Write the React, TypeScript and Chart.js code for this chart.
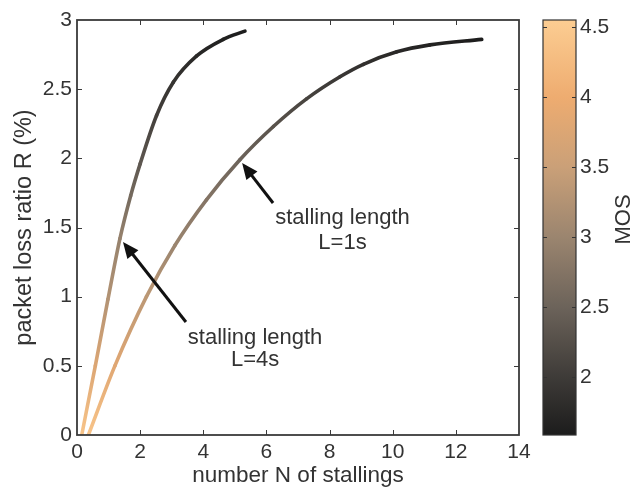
import React, { useEffect, useRef } from "react";
import { Chart, registerables } from "chart.js";

Chart.register(...registerables);

// ---- data ----
const N_L1 = [0.36, 1.2, 2.2, 3.1, 4.1, 5.16, 6.22, 7.27, 8.33, 9.07, 10.13, 11.18, 12.82];
const R_L1 = [0, 0.5, 1.0, 1.37, 1.7, 1.99, 2.23, 2.43, 2.59, 2.68, 2.77, 2.82, 2.86];
const MOS_L1 = [4.4, 3.8, 3.35, 3.0, 2.75, 2.5, 2.3, 2.1, 1.95, 1.85, 1.75, 1.68, 1.6];

const N_L4 = [0.15, 0.58, 0.98, 1.36, 1.7, 2.0, 2.52, 3.05, 3.79, 4.63, 5.32];
const R_L4 = [0, 0.5, 0.98, 1.42, 1.73, 1.96, 2.31, 2.55, 2.74, 2.86, 2.92];
const MOS_L4 = [4.4, 3.75, 3.25, 2.95, 2.6, 2.35, 2.05, 1.9, 1.75, 1.65, 1.6];

const X_TICKS = [0, 2, 4, 6, 8, 10, 12, 14];
const Y_TICKS = [0, 0.5, 1, 1.5, 2, 2.5, 3];
const MOS_TICKS = [2, 2.5, 3, 3.5, 4, 4.5];
const MOS_MIN = 1.586;
const MOS_MAX = 4.55;

// colormap (MOS -> colour)
const CMAP_MOS = [1.586, 2.0, 2.5, 3.0, 3.5, 4.0, 4.55];
const CMAP_RGB = [
  [28, 28, 28],
  [62, 59, 56],
  [108, 99, 90],
  [155, 133, 111],
  [202, 160, 120],
  [238, 172, 112],
  [252, 205, 146],
];

// annotation texts and anchors (data coordinates)
const NOTE_TEXT_1 = ["stalling length", "L=1s"];
const NOTE_TEXT_4 = ["stalling length", "L=4s"];
const NOTE_POS_1 = { x: 8.41, y1: 1.569, y2: 1.385 };
const NOTE_POS_4 = { x: 5.64, y1: 0.703, y2: 0.54 };
const ARROW_1 = { from: [6.21, 1.677], to: [5.23, 1.966] };
const ARROW_4 = { from: [3.45, 0.817], to: [1.457, 1.395] };

const FONT = "'Liberation Sans', Arial, Helvetica, sans-serif";

function mosColor(m: number): string {
  if (m <= CMAP_MOS[0]) return `rgb(${CMAP_RGB[0].join(",")})`;
  for (let i = 1; i < CMAP_MOS.length; i++) {
    if (m <= CMAP_MOS[i]) {
      const t = (m - CMAP_MOS[i - 1]) / (CMAP_MOS[i] - CMAP_MOS[i - 1]);
      const a = CMAP_RGB[i - 1];
      const b = CMAP_RGB[i];
      const c = a.map((v, k) => Math.round(v + (b[k] - v) * t));
      return `rgb(${c.join(",")})`;
    }
  }
  return `rgb(${CMAP_RGB[CMAP_RGB.length - 1].join(",")})`;
}

const framePlugin = {
  id: "frame",
  afterDraw(chart: any) {
    const { ctx, chartArea: a, scales } = chart;
    const xs = scales.x;
    const ys = scales.y;
    const ms = scales.mos;
    ctx.save();

    // inward ticks
    ctx.strokeStyle = "#3a3a3a";
    ctx.lineWidth = 1;
    ctx.beginPath();
    xs.ticks.forEach((t: any) => {
      const px = Math.round(xs.getPixelForValue(t.value)) + 0.5;
      if (px <= a.left + 1 || px >= a.right - 1) return;
      ctx.moveTo(px, a.bottom);
      ctx.lineTo(px, a.bottom - 5);
      ctx.moveTo(px, a.top);
      ctx.lineTo(px, a.top + 5);
    });
    ys.ticks.forEach((t: any) => {
      const py = Math.round(ys.getPixelForValue(t.value)) + 0.5;
      if (py <= a.top + 1 || py >= a.bottom - 1) return;
      ctx.moveTo(a.left, py);
      ctx.lineTo(a.left + 5, py);
      ctx.moveTo(a.right, py);
      ctx.lineTo(a.right - 5, py);
    });
    ctx.stroke();

    // plot frame
    ctx.lineWidth = 1.8;
    ctx.strokeStyle = "#3a3a3a";
    ctx.strokeRect(a.left, a.top, a.right - a.left, a.bottom - a.top);

    // colour bar
    const cbL = ms.left + 24;
    const cbR = ms.left + 57;
    const top = ms.getPixelForValue(MOS_MAX);
    const bot = ms.getPixelForValue(MOS_MIN);
    const grad = ctx.createLinearGradient(0, bot, 0, top);
    CMAP_MOS.forEach((m) => {
      grad.addColorStop((m - MOS_MIN) / (MOS_MAX - MOS_MIN), mosColor(m));
    });
    ctx.fillStyle = grad;
    ctx.fillRect(cbL, top, cbR - cbL, bot - top);
    ctx.lineWidth = 1.2;
    ctx.strokeStyle = "#333";
    ctx.strokeRect(cbL, top, cbR - cbL, bot - top);
    ctx.beginPath();
    ms.ticks.forEach((t: any) => {
      const py = Math.round(ms.getPixelForValue(t.value)) + 0.5;
      ctx.moveTo(cbL, py);
      ctx.lineTo(cbL + 4, py);
      ctx.moveTo(cbR, py);
      ctx.lineTo(cbR - 4, py);
    });
    ctx.stroke();

    // MOS title
    ctx.save();
    ctx.translate(ms.left + 105, (top + bot) / 2 - 8);
    ctx.rotate(-Math.PI / 2);
    ctx.fillStyle = "#333";
    ctx.font = `22px ${FONT}`;
    ctx.textAlign = "center";
    ctx.textBaseline = "middle";
    ctx.fillText("MOS", 0, 0);
    ctx.restore();

    // annotations
    const drawArrow = (arr: any) => {
      const x1 = xs.getPixelForValue(arr.from[0]);
      const y1 = ys.getPixelForValue(arr.from[1]);
      const x2 = xs.getPixelForValue(arr.to[0]);
      const y2 = ys.getPixelForValue(arr.to[1]);
      const ang = Math.atan2(y2 - y1, x2 - x1);
      const hl = 16;
      const hw = 7;
      const bx = x2 - hl * Math.cos(ang);
      const by = y2 - hl * Math.sin(ang);
      ctx.strokeStyle = "#111";
      ctx.fillStyle = "#111";
      ctx.lineWidth = 3;
      ctx.lineCap = "butt";
      ctx.beginPath();
      ctx.moveTo(x1, y1);
      ctx.lineTo(bx + 2 * Math.cos(ang), by + 2 * Math.sin(ang));
      ctx.stroke();
      ctx.beginPath();
      ctx.moveTo(x2, y2);
      ctx.lineTo(bx + hw * Math.sin(ang), by - hw * Math.cos(ang));
      ctx.lineTo(bx - hw * Math.sin(ang), by + hw * Math.cos(ang));
      ctx.closePath();
      ctx.fill();
    };
    drawArrow(ARROW_1);
    drawArrow(ARROW_4);

    ctx.fillStyle = "#333";
    ctx.font = `22px ${FONT}`;
    ctx.textAlign = "center";
    ctx.textBaseline = "middle";
    const drawNote = (lines: string[], pos: any) => {
      const px = xs.getPixelForValue(pos.x);
      ctx.fillText(lines[0], px, ys.getPixelForValue(pos.y1));
      ctx.fillText(lines[1], px, ys.getPixelForValue(pos.y2));
    };
    drawNote(NOTE_TEXT_1, NOTE_POS_1);
    drawNote(NOTE_TEXT_4, NOTE_POS_4);

    ctx.restore();
  },
};

export default function App() {
  const canvasRef = useRef<HTMLCanvasElement | null>(null);

  useEffect(() => {
    const canvas = canvasRef.current;
    if (!canvas) return;
    const c2d = canvas.getContext("2d") as CanvasRenderingContext2D;

    const segGrad = (mos: number[]) => (sc: any) => {
      const g = c2d.createLinearGradient(sc.p0.x, sc.p0.y, sc.p1.x, sc.p1.y);
      g.addColorStop(0, mosColor(mos[sc.p0DataIndex]));
      g.addColorStop(1, mosColor(mos[sc.p1DataIndex]));
      return g;
    };

    const lineDs = (n: number[], r: number[], mos: number[]) => ({
      data: n.map((v, i) => ({ x: v, y: r[i] })),
      borderColor: mosColor(mos[0]),
      borderWidth: 3.6,
      pointRadius: 0,
      cubicInterpolationMode: "monotone" as const,
      borderCapStyle: "round" as const,
      borderJoinStyle: "round" as const,
      segment: { borderColor: segGrad(mos) },
    });

    const tickFont = { family: FONT, size: 21 };

    const chart = new Chart(canvas, {
      type: "line",
      data: {
        datasets: [lineDs(N_L4, R_L4, MOS_L4), lineDs(N_L1, R_L1, MOS_L1)],
      },
      options: {
        responsive: false,
        animation: false,
        layout: { padding: { top: 20, left: 0, right: 0, bottom: 0 } },
        plugins: { legend: { display: false }, tooltip: { enabled: false } },
        scales: {
          x: {
            type: "linear",
            position: "bottom",
            min: 0,
            max: 14,
            grid: { display: false, drawTicks: false },
            border: { display: false },
            afterBuildTicks: (s: any) => {
              s.ticks = X_TICKS.map((v) => ({ value: v }));
            },
            ticks: {
              color: "#333",
              font: tickFont,
              padding: 5,
              maxRotation: 0,
              autoSkip: false,
              callback: (v: any) => String(v),
            },
            title: {
              display: true,
              text: "number N of stallings",
              color: "#333",
              font: { family: FONT, size: 22.5, lineHeight: 1 },
              padding: { top: 0, bottom: 1 },
            },
            afterFit: (s: any) => {
              s.height = 53;
            },
          },
          y: {
            type: "linear",
            position: "left",
            min: 0,
            max: 3,
            grid: { display: false, drawTicks: false },
            border: { display: false },
            afterBuildTicks: (s: any) => {
              s.ticks = Y_TICKS.map((v) => ({ value: v }));
            },
            ticks: {
              color: "#333",
              font: tickFont,
              padding: 5,
              autoSkip: false,
              callback: (v: any) => String(v),
            },
            title: {
              display: true,
              text: "packet loss ratio R (%)",
              color: "#333",
              font: { family: FONT, size: 23.5, lineHeight: 1 },
              padding: { top: 13, bottom: 0 },
            },
            afterFit: (s: any) => {
              s.width = 77;
            },
          },
          mos: {
            type: "linear",
            position: "right",
            min: MOS_MIN,
            max: MOS_MAX,
            grid: { display: false, drawTicks: true, tickLength: 57 },
            border: { display: false },
            afterBuildTicks: (s: any) => {
              s.ticks = MOS_TICKS.map((v) => ({ value: v }));
            },
            ticks: {
              color: "#333",
              font: tickFont,
              padding: 4,
              autoSkip: false,
              callback: (v: any) => String(v),
            },
            afterFit: (s: any) => {
              s.width = 117;
            },
          },
        },
      },
      plugins: [framePlugin],
    } as any);

    return () => {
      chart.destroy();
    };
  }, []);

  return (
    <div style={{ position: "absolute", left: 0, top: 0, width: 636, height: 488, background: "#fff" }}>
      <canvas ref={canvasRef} width={636} height={488} style={{ width: 636, height: 488, display: "block" }} />
    </div>
  );
}
